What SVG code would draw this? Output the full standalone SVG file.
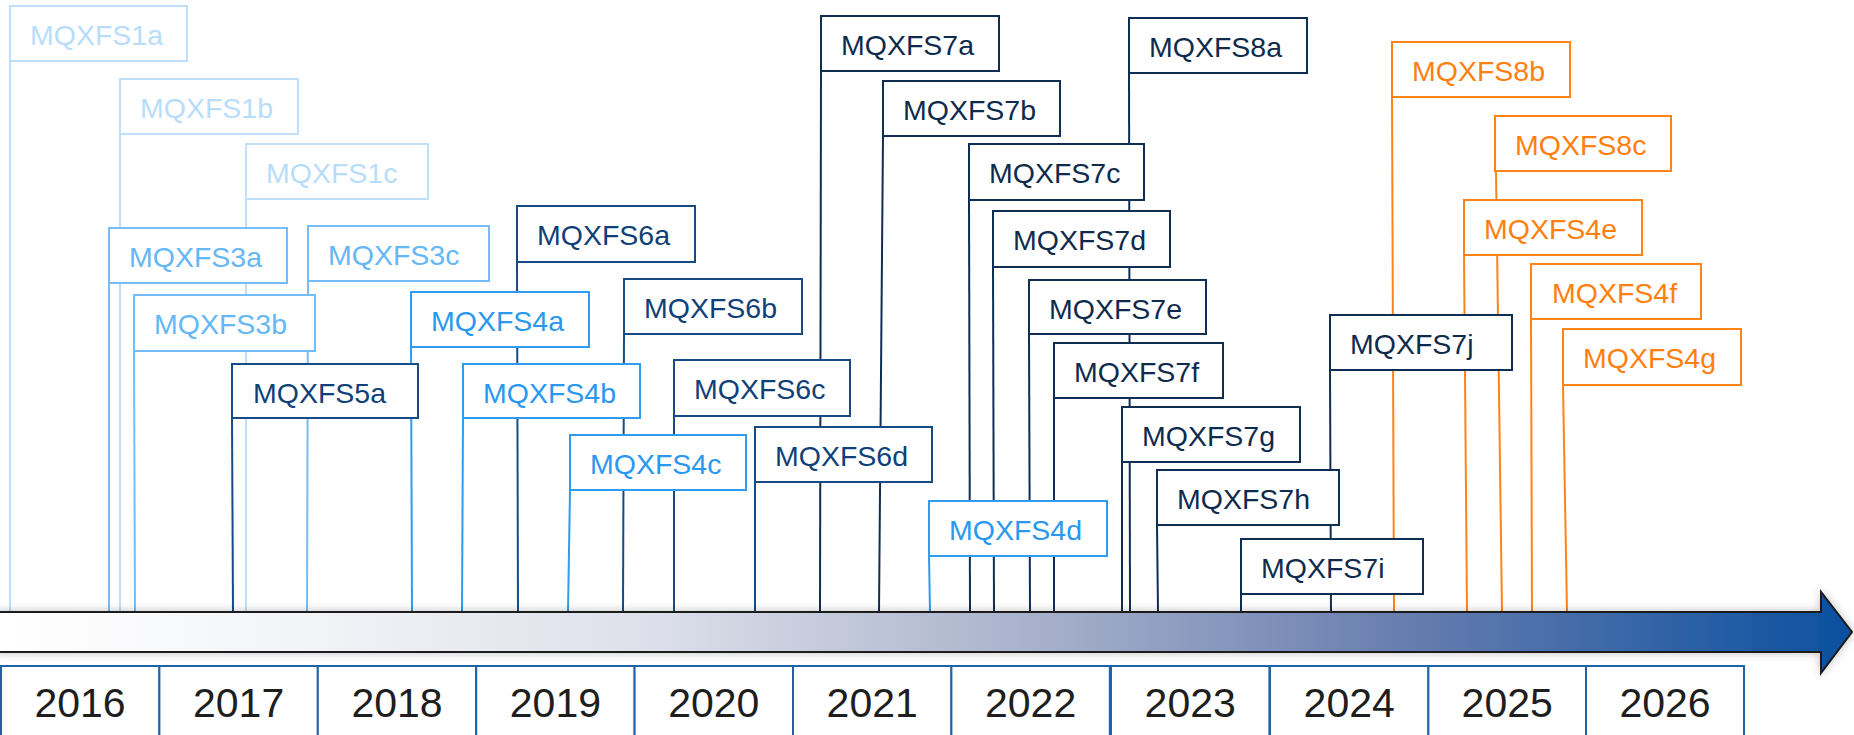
<svg xmlns="http://www.w3.org/2000/svg" width="1854" height="735" viewBox="0 0 1854 735">
<defs>
<linearGradient id="ag" x1="0" y1="0" x2="1854" y2="0" gradientUnits="userSpaceOnUse">
<stop offset="0" stop-color="#ffffff"/>
<stop offset="0.15" stop-color="#f4f5f8"/>
<stop offset="0.35" stop-color="#dde0ea"/>
<stop offset="0.55" stop-color="#aab3cc"/>
<stop offset="0.75" stop-color="#6a7fb0"/>
<stop offset="1" stop-color="#0a4f9f"/>
</linearGradient>
<filter id="sh" x="-5%" y="-50%" width="110%" height="200%">
<feGaussianBlur in="SourceAlpha" stdDeviation="5"/>
<feComponentTransfer><feFuncA type="linear" slope="0.25"/></feComponentTransfer>
<feMerge><feMergeNode/><feMergeNode in="SourceGraphic"/></feMerge>
</filter>
</defs>
<style>
.b rect{fill:#fff;stroke-width:2}
.b text{font-family:"Liberation Sans",Arial,sans-serif;font-size:28.5px}
.c1 rect{stroke:#bfe0fa}.c1 text{fill:#b8ddfb}
.c2 rect{stroke:#74bdf6}.c2 text{fill:#66b7f5}
.c3 rect{stroke:#2f9cf0}.c3 text{fill:#2a98ef}
.c4 rect{stroke:#164c85}.c4 text{fill:#0f4178}
.c5 rect{stroke:#102e52}.c5 text{fill:#0e2b4d}
.c6 rect{stroke:#ff8418}.c6 text{fill:#ff7f10}
#connectors path{fill:none;stroke-width:2}
.l1{stroke:#bfe0fa}.l2{stroke:#74bdf6}.l3{stroke:#2f9cf0}.l4{stroke:#164c85}.l5{stroke:#102e52}.l6{stroke:#ff8418}
.yr rect{fill:#fff;stroke:#1e62a8;stroke-width:2}
.yr text{font-family:"Liberation Sans",Arial,sans-serif;font-size:41px;fill:#1e1e1e;text-anchor:middle}
</style>
<rect width="1854" height="735" fill="#fff"/>
<g id="connectors">
<path class="l1" d="M10 61V612"/>
<path class="l1" d="M120 134V612"/>
<path class="l1" d="M246 199V612"/>
<path class="l2" d="M109 283V612"/>
<path class="l2" d="M308 281L307 612"/>
<path class="l2" d="M134 351L135 612"/>
<path class="l4" d="M232 418L233 612"/>
<path class="l3" d="M411 347L412 612"/>
<path class="l3" d="M463 418L462 612"/>
<path class="l4" d="M517 262L518 612"/>
<path class="l4" d="M624 334L623 612"/>
<path class="l4" d="M674 416V612"/>
<path class="l3" d="M570 490L568 612"/>
<path class="l4" d="M755 482V612"/>
<path class="l5" d="M821 71L820 612"/>
<path class="l5" d="M883 136L879 612"/>
<path class="l5" d="M969 200L970 612"/>
<path class="l5" d="M993 267L994 612"/>
<path class="l5" d="M1029 334L1030 612"/>
<path class="l5" d="M1054 398V612"/>
<path class="l5" d="M1122 462V612"/>
<path class="l5" d="M1129 73L1130 612"/>
<path class="l5" d="M1157 525L1158 612"/>
<path class="l5" d="M1241 594V612"/>
<path class="l5" d="M1330 370L1331 612"/>
<path class="l3" d="M929 556L930 612"/>
<path class="l6" d="M1392 97L1394 612"/>
<path class="l6" d="M1496 171L1502 612"/>
<path class="l6" d="M1464 255L1467 612"/>
<path class="l6" d="M1531 319L1532 612"/>
<path class="l6" d="M1563 385L1567 612"/>
</g>
<g id="MQXFS1a" class="b c1"><rect x="10" y="6" width="177" height="55"/><text x="30" y="45">MQXFS1a</text></g>
<g id="MQXFS1b" class="b c1"><rect x="120" y="79" width="178" height="55"/><text x="140" y="118">MQXFS1b</text></g>
<g id="MQXFS1c" class="b c1"><rect x="246" y="144" width="182" height="55"/><text x="266" y="183">MQXFS1c</text></g>
<g id="MQXFS3a" class="b c2"><rect x="109" y="228" width="178" height="55"/><text x="129" y="267">MQXFS3a</text></g>
<g id="MQXFS3c" class="b c2"><rect x="308" y="226" width="181" height="55"/><text x="328" y="265">MQXFS3c</text></g>
<g id="MQXFS3b" class="b c2"><rect x="134" y="295" width="181" height="56"/><text x="154" y="334">MQXFS3b</text></g>
<g id="MQXFS5a" class="b c4"><rect x="232" y="364" width="186" height="54"/><text x="253" y="403">MQXFS5a</text></g>
<g id="MQXFS4a" class="b c3"><rect x="411" y="292" width="178" height="55"/><text x="431" y="331">MQXFS4a</text></g>
<g id="MQXFS4b" class="b c3"><rect x="463" y="364" width="177" height="54"/><text x="483" y="403">MQXFS4b</text></g>
<g id="MQXFS6a" class="b c4"><rect x="517" y="206" width="178" height="56"/><text x="537" y="245">MQXFS6a</text></g>
<g id="MQXFS6b" class="b c4"><rect x="624" y="279" width="178" height="55"/><text x="644" y="318">MQXFS6b</text></g>
<g id="MQXFS6c" class="b c4"><rect x="674" y="360" width="176" height="56"/><text x="694" y="399">MQXFS6c</text></g>
<g id="MQXFS4c" class="b c3"><rect x="570" y="435" width="176" height="55"/><text x="590" y="474">MQXFS4c</text></g>
<g id="MQXFS6d" class="b c4"><rect x="755" y="427" width="177" height="55"/><text x="775" y="466">MQXFS6d</text></g>
<g id="MQXFS7a" class="b c5"><rect x="821" y="16" width="178" height="55"/><text x="841" y="55">MQXFS7a</text></g>
<g id="MQXFS7b" class="b c5"><rect x="883" y="81" width="177" height="55"/><text x="903" y="120">MQXFS7b</text></g>
<g id="MQXFS7c" class="b c5"><rect x="969" y="144" width="175" height="56"/><text x="989" y="183">MQXFS7c</text></g>
<g id="MQXFS7d" class="b c5"><rect x="993" y="211" width="177" height="56"/><text x="1013" y="250">MQXFS7d</text></g>
<g id="MQXFS7e" class="b c5"><rect x="1029" y="280" width="177" height="54"/><text x="1049" y="319">MQXFS7e</text></g>
<g id="MQXFS7f" class="b c5"><rect x="1054" y="343" width="169" height="55"/><text x="1074" y="382">MQXFS7f</text></g>
<g id="MQXFS7g" class="b c5"><rect x="1122" y="407" width="178" height="55"/><text x="1142" y="446">MQXFS7g</text></g>
<g id="MQXFS8a" class="b c5"><rect x="1129" y="18" width="178" height="55"/><text x="1149" y="57">MQXFS8a</text></g>
<g id="MQXFS7h" class="b c5"><rect x="1157" y="470" width="182" height="55"/><text x="1177" y="509">MQXFS7h</text></g>
<g id="MQXFS7i" class="b c5"><rect x="1241" y="539" width="182" height="55"/><text x="1261" y="578">MQXFS7i</text></g>
<g id="MQXFS7j" class="b c5"><rect x="1330" y="315" width="182" height="55"/><text x="1350" y="354">MQXFS7j</text></g>
<g id="MQXFS4d" class="b c3"><rect x="929" y="501" width="178" height="55"/><text x="949" y="540">MQXFS4d</text></g>
<g id="MQXFS8b" class="b c6"><rect x="1392" y="42" width="178" height="55"/><text x="1412" y="81">MQXFS8b</text></g>
<g id="MQXFS8c" class="b c6"><rect x="1495" y="116" width="176" height="55"/><text x="1515" y="155">MQXFS8c</text></g>
<g id="MQXFS4e" class="b c6"><rect x="1464" y="200" width="178" height="55"/><text x="1484" y="239">MQXFS4e</text></g>
<g id="MQXFS4f" class="b c6"><rect x="1531" y="264" width="170" height="55"/><text x="1552" y="303">MQXFS4f</text></g>
<g id="MQXFS4g" class="b c6"><rect x="1563" y="329" width="178" height="56"/><text x="1583" y="368">MQXFS4g</text></g>
<g id="timeline-arrow"><path d="M-4 612H1821V592L1852 632L1821 673V652H-4Z" fill="url(#ag)" stroke="#1a1a1a" stroke-width="2" filter="url(#sh)"/></g>
<g id="years" class="yr">
<g id="y2016"><rect x="1" y="666" width="158.4" height="80"/><text x="80" y="717">2016</text></g>
<g id="y2017"><rect x="159.4" y="666" width="158.4" height="80"/><text x="238.6" y="717">2017</text></g>
<g id="y2018"><rect x="317.8" y="666" width="158.4" height="80"/><text x="397" y="717">2018</text></g>
<g id="y2019"><rect x="476.2" y="666" width="158.4" height="80"/><text x="555.4" y="717">2019</text></g>
<g id="y2020"><rect x="634.6" y="666" width="158.4" height="80"/><text x="713.8" y="717">2020</text></g>
<g id="y2021"><rect x="793" y="666" width="158.4" height="80"/><text x="872.2" y="717">2021</text></g>
<g id="y2022"><rect x="951.4" y="666" width="158.4" height="80"/><text x="1030.6" y="717">2022</text></g>
<g id="y2023"><rect x="1111" y="666" width="158.4" height="80"/><text x="1190.2" y="717">2023</text></g>
<g id="y2024"><rect x="1270" y="666" width="158.4" height="80"/><text x="1349.2" y="717">2024</text></g>
<g id="y2025"><rect x="1428.4" y="666" width="157.6" height="80"/><text x="1507.2" y="717">2025</text></g>
<g id="y2026"><rect x="1586" y="666" width="158" height="80"/><text x="1665" y="717">2026</text></g>
</g>
</svg>
